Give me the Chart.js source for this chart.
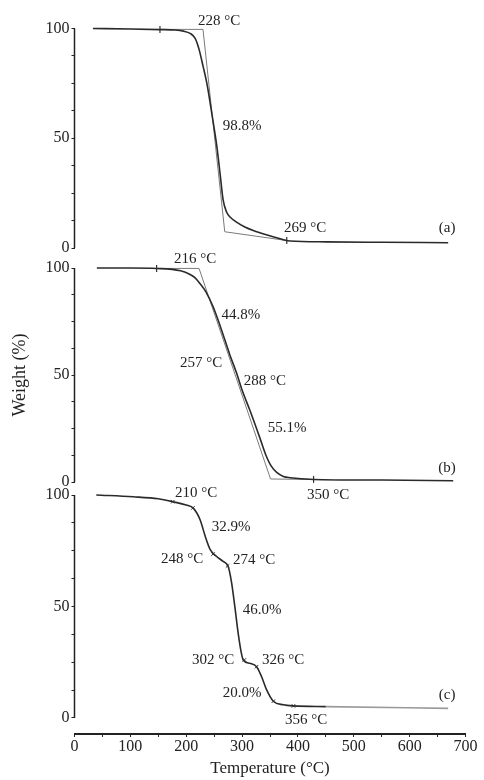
<!DOCTYPE html>
<html><head><meta charset="utf-8">
<script src="https://cdn.jsdelivr.net/npm/chart.js@4.4.1/dist/chart.umd.min.js"></script>
<style>
html,body{margin:0;padding:0;background:#fff;}
#wrap{position:relative;width:484px;height:780px;}
canvas{position:absolute;left:0;top:0;}
</style></head><body>
<div id="wrap">
<canvas id="ca" width="484" height="780"></canvas>
<canvas id="cb" width="484" height="780"></canvas>
<canvas id="cc" width="484" height="780"></canvas>
</div>
<script>
// ---- data ----
const tempA   = [33, 100, 153, 180, 195, 207, 216, 223, 230, 237, 246, 255, 261, 266, 272, 279, 290, 305, 320, 345, 374, 386, 450, 550, 669];
const weightA = [100, 99.8, 99.5, 99.3, 98.8, 97.8, 95.5, 90.5, 83, 75, 61, 46, 33, 22, 16.5, 14, 11.8, 9.6, 8, 5.9, 3.8, 3.2, 2.8, 2.6, 2.4];
const consTempA   = [153, 230, 269, 380];
const consWeightA = [99.6, 99.6, 7.4, 3.4];

const tempB   = [40, 100, 147, 190, 207, 215, 225, 235, 248, 262, 278, 290, 300, 314, 332, 342, 352, 362, 374, 386, 428, 550, 678];
const weightB = [100, 100, 99.8, 98.7, 97, 95.6, 92.6, 89, 82, 72, 59.5, 51, 43, 33.5, 20.5, 13, 7.5, 4.5, 2.6, 2, 1.2, 0.9, 0.6];
const consTempB   = [147, 223, 351, 428];
const consWeightB = [99.8, 99.8, 1.4, 1.2];

const tempC   = [39, 105, 150, 176, 200, 213, 225, 234, 243, 255, 266, 275, 281, 287, 293, 298, 302, 314, 326, 335, 344, 356, 374, 392, 450, 669];
const weightC = [100, 99.2, 98.3, 97, 95.5, 94, 88.8, 81.5, 75.5, 72.3, 70.2, 68, 61, 50, 38, 30, 26, 24.5, 23, 18.5, 12.6, 7.5, 5.9, 5.4, 5.1, 4.3];
const markTempC   = [176, 212, 248, 274, 304, 326, 356, 392];
const markWeightC = [97, 94.2, 73.5, 68.2, 26, 23, 7.5, 5.4];

const xTickLabels = [0, 100, 200, 300, 400, 500, 600, 700];
const yTickLabels = [0, 50, 100];
const yTickMarks  = [0, 12.5, 25, 37.5, 50, 62.5, 75, 87.5, 100];

const notesA = [
  {text: '228 °C', x: 259, y: 103.4},
  {text: '98.8%',  x: 300, y: 55.6},
  {text: '269 °C', x: 413, y: 9.1},
  {text: '(a)',    x: 667, y: 9.1}
];
const notesB = [
  {text: '216 °C', x: 216, y: 104.2},
  {text: '44.8%',  x: 298, y: 78},
  {text: '257 °C', x: 226.5, y: 55.6},
  {text: '288 °C', x: 341, y: 47.2},
  {text: '55.1%',  x: 380.5, y: 25.2},
  {text: '(b)',    x: 667, y: 6.5},
  {text: '350 °C', x: 454, y: -6.1}
];
const notesC = [
  {text: '210 °C', x: 217.6, y: 100.9},
  {text: '32.9%',  x: 280.3, y: 85.7},
  {text: '248 °C', x: 192.5, y: 71.3},
  {text: '274 °C', x: 321.5, y: 70.9},
  {text: '46.0%',  x: 335.8, y: 48.4},
  {text: '302 °C', x: 248, y: 26},
  {text: '326 °C', x: 373.4, y: 26},
  {text: '20.0%',  x: 300, y: 11.2},
  {text: '(c)',    x: 667, y: 10.3},
  {text: '356 °C', x: 414.5, y: -0.9}
];

// ---- drawing ----
const FONT = '"Liberation Serif", "Times New Roman", serif';
const INK = '#222';
const pts = (xs, ys) => xs.map((x, i) => ({x, y: ys[i]}));

function panelPlugin(notes) {
  return {
    id: 'panelNotes',
    afterDraw(chart) {
      const {ctx, scales: {x, y}, chartArea} = chart;
      ctx.save();
      ctx.strokeStyle = INK; ctx.lineWidth = 1.5;
      ctx.beginPath();
      ctx.moveTo(chartArea.left, y.getPixelForValue(100));
      ctx.lineTo(chartArea.left, y.getPixelForValue(0));
      ctx.stroke();
      ctx.fillStyle = INK;
      ctx.font = '15px ' + FONT;
      ctx.textAlign = 'center';
      ctx.textBaseline = 'middle';
      notes.forEach(n => ctx.fillText(n.text, x.getPixelForValue(n.x), y.getPixelForValue(n.y)));
      ctx.restore();
    }
  };
}

function curveDs(xs, ys, grayFrom) {
  return {
    data: pts(xs, ys), borderColor: '#2a2a2a', borderWidth: 1.6, pointRadius: 0,
    cubicInterpolationMode: 'monotone', clip: false,
    segment: grayFrom ? {borderColor: c => c.p0.parsed.x >= grayFrom ? '#9a9a9a' : '#2a2a2a'} : undefined
  };
}
function consDs(xs, ys) {
  return {
    data: pts(xs, ys), borderColor: '#7a7a7a', borderWidth: 1, tension: 0, clip: false,
    pointStyle: 'line', rotation: 90, pointBorderColor: '#333', pointBorderWidth: 1.2,
    pointRadius: c => (c.dataIndex === 0 || c.dataIndex === xs.length - 1) ? 3.5 : 0
  };
}

function makeChart(id, datasets, notes, cfg) {
  return new Chart(document.getElementById(id), {
    type: 'line',
    data: {datasets},
    plugins: [panelPlugin(notes)],
    options: {
      responsive: false, animation: false, events: [],
      layout: {padding: {top: cfg.top, bottom: cfg.bottom, left: 74.5 - cfg.yWidth, right: 18.5}},
      plugins: {legend: {display: false}, tooltip: {enabled: false}},
      scales: {
        x: {
          type: 'linear', min: 0, max: 700, display: cfg.showX,
          afterFit: s => { s.height = cfg.showX ? 46 : 0; },
          afterBuildTicks: s => { s.ticks = [0,50,100,150,200,250,300,350,400,450,500,550,600,650,700].map(v => ({value: v})); },
          ticks: {autoSkip: false, maxRotation: 0, padding: 0, color: INK, font: {family: FONT, size: 16},
                  callback: v => xTickLabels.includes(v) ? String(v) : ''},
          grid: {drawOnChartArea: false, drawTicks: true, tickLength: 3, color: INK},
          border: {display: true, color: INK, width: 2},
          title: {display: true, text: 'Temperature (°C)', color: INK, font: {family: FONT, size: 17}, padding: {top: 0, bottom: 1}}
        },
        y: {
          type: 'linear', min: cfg.yMin, max: 100,
          afterFit: s => { s.width = cfg.yWidth; },
          afterBuildTicks: s => { s.ticks = yTickMarks.map(v => ({value: v})); },
          border: {display: false},
          grid: {drawOnChartArea: false, drawTicks: true, tickLength: 3, color: INK, lineWidth: 1},
          ticks: {autoSkip: false, padding: 2, color: INK, font: {family: FONT, size: 16},
                  callback: v => yTickLabels.includes(v) ? String(v) : ''},
          title: {display: !!cfg.yTitle, text: cfg.yTitle || '', color: INK, font: {family: FONT, size: 18}, padding: {top: 0, bottom: 0}}
        }
      }
    }
  });
}

makeChart('ca', [curveDs(tempA, weightA), consDs(consTempA, consWeightA)], notesA,
  {top: 28.5, bottom: 532, yWidth: 40, yMin: 0, showX: false});
makeChart('cb', [curveDs(tempB, weightB), consDs(consTempB, consWeightB)], notesB,
  {top: 268, bottom: 298, yWidth: 65, yMin: 0, showX: false, yTitle: 'Weight (%)'});
makeChart('cc', [curveDs(tempC, weightC, 450),
  {data: pts(markTempC, markWeightC), showLine: false, pointStyle: 'crossRot', pointRadius: 2.5,
   pointBorderColor: '#333', pointBorderWidth: 1, clip: false}], notesC,
  {top: 495, bottom: 0, yWidth: 40, yMin: -7.2, showX: true});
</script>
</body></html>
